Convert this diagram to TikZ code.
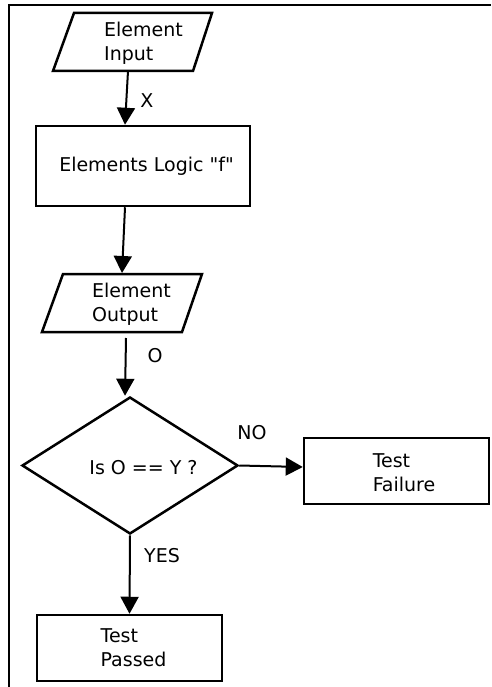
\documentclass[tikz,border=0pt]{standalone}
\usepackage{fontspec}
\setmainfont{DejaVu Sans}[Ligatures=TeXOff]
\usetikzlibrary{shapes.geometric,arrows.meta}
\begin{document}
\begin{tikzpicture}[x=1pt,y=-1pt,
  font=\fontsize{19}{24}\selectfont,
  shapeline/.style={draw, line width=2.5pt, inner sep=0pt},
  ioline/.style={line width=2.5pt, line join=miter},
  procbox/.style={shapeline, rectangle},
  flow/.style={line width=2pt, -{Triangle[width=18pt,length=17pt]}},
  tag/.style={inner sep=0pt}
]
\useasboundingbox (0,0) rectangle (491,687);

% page frame
\draw[line width=2pt] (9,687) -- (9,5) -- (491,5);

% input parallelogram
\draw[ioline] (53,71) -- (74,13) -- (212,13) -- (193,71) -- cycle;
\node[tag, align=left] (in) at (143.5,43) {Element\\Input};
\coordinate (in-s) at (128,71);

% processing step
\node[procbox, minimum width=214pt, minimum height=80pt] (logic) at (143,166) {};
\node[tag] (logictext) at (146.5,166) {Elements Logic "f"};

% output parallelogram
\draw[ioline] (42,332) -- (63,274) -- (202,274) -- (182,332) -- cycle;
\node[tag, align=left] (out) at (131.5,304) {Element\\Output};
\coordinate (out-n) at (122,273);
\coordinate (out-s) at (126,338);

% decision
\node[shapeline, diamond, minimum width=216pt, minimum height=137pt] (dec) at (130,465.5) {};
\node[tag] (dectext) at (143.5,468) {Is O == Y ?};

% results
\node[procbox, minimum width=185pt, minimum height=66pt] (fail) at (396.5,471) {};
\node[tag, align=left] (failtext) at (404,473) {Test\\Failure};

\node[procbox, minimum width=185pt, minimum height=66pt] (pass) at (129.5,648) {};
\node[tag, align=left] (passtext) at (133.5,647.5) {Test\\Passed};

% connector labels
\node[tag] (lx) at (147,101) {X};
\node[tag] (lo) at (155,356) {O};
\node[tag] (lno) at (252,433) {NO};
\node[tag] (lyes) at (162,556) {YES};

% connectors
\draw[flow] (in-s) -- ([xshift=-18pt]logic.north);
\draw[flow] ([xshift=-18pt]logic.south) -- (out-n);
\draw[flow] (out-s) -- ([xshift=-5pt]dec.north);
\draw[flow] (dec.east) -- ([yshift=4pt]fail.west);
\draw[flow] (dec.south) -- (pass.north);
\end{tikzpicture}
\end{document}
